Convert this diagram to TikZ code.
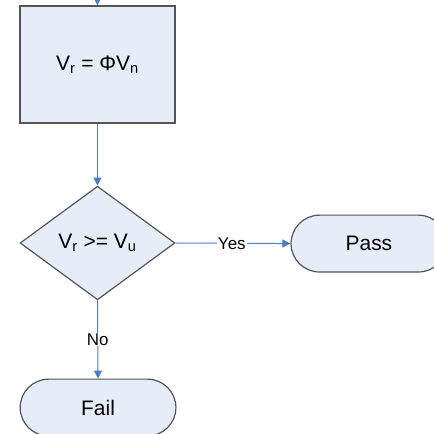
\documentclass[tikz,border=0pt]{standalone}
\usepackage{fontspec}
\setmainfont{Liberation Sans}
\usepackage{tikz}
\usetikzlibrary{shapes.geometric, shapes.misc, arrows.meta}

\definecolor{boxfill}{HTML}{E7EDF8}
\definecolor{boxline}{HTML}{555555}
\definecolor{flowblue}{HTML}{4A7DC8}

\tikzset{
  procbox/.style={rectangle,draw=boxline,fill=boxfill,line width=1.2pt,minimum width=5.45cm,minimum height=4.12cm,inner sep=0pt,font=\fontsize{21}{24}\selectfont},
  decbox/.style={diamond,draw=boxline,fill=boxfill,line width=1.2pt,minimum width=5.45cm,minimum height=4.0cm,inner sep=0pt,font=\fontsize{21}{24}\selectfont},
  termbox/.style={rounded rectangle,draw=boxline,fill=boxfill,line width=1.2pt,minimum width=5.48cm,minimum height=2.0cm,inner sep=0pt,font=\fontsize{21}{24}\selectfont},
  flow/.style={draw=flowblue,line width=1pt,-{Triangle[width=8pt,length=8pt]}},
  lbl/.style={fill=white,inner sep=1pt,font=\fontsize{17}{20}\selectfont}
}

\begin{document}
\begin{tikzpicture}

\useasboundingbox (0,0) rectangle (15.27,15.27);

\coordinate (top) at (3.43,15.6);

% process and decision
\node[procbox] (calc) at (3.43,13.0) {V\textsubscript{r} = ΦV\textsubscript{n}};
\node[decbox] (check) at (3.43,6.72) {V\textsubscript{r} >= V\textsubscript{u}};

% outcomes
\node[termbox] (pass) at (12.98,6.70) {Pass};
\node[termbox] (fail) at (3.45,0.93) {Fail};

\draw[flow] (top)--(calc.north);
\draw[flow] (calc)--(check);
\draw[flow] (check.east)--node[lbl,pos=0.49] (yes) {Yes} (pass.west);
\draw[flow] (check.south)--node[lbl] (no) {No} (fail.north);

\end{tikzpicture}
\end{document}
